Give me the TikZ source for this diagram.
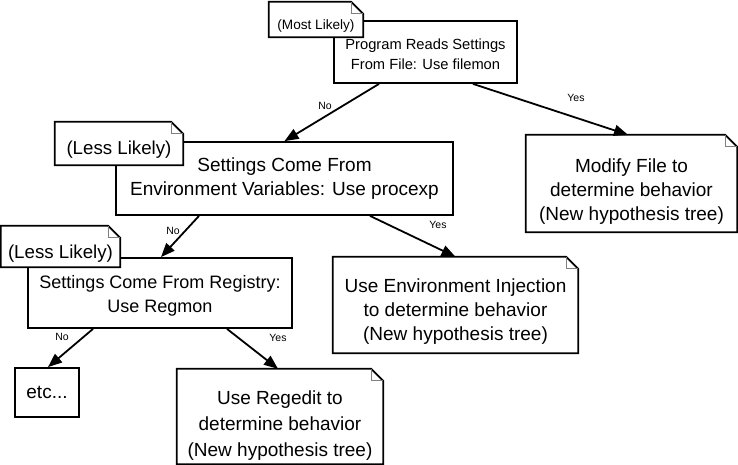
\documentclass[tikz,border=0pt]{standalone}
\usepackage{fontspec}
\setmainfont{Liberation Sans}
\usetikzlibrary{arrows.meta}

% note outline with folded corner
\newcommand{\dogear}[1]{%
  \draw[line width=1.8pt] (#1.north west) -- ([xshift=-12pt]#1.north east) -- ([yshift=-12pt]#1.north east) -- (#1.south east) -- (#1.south west) -- cycle;
  \draw[gray, line width=1.2pt] ([xshift=-12pt]#1.north east) |- ([yshift=-12pt]#1.north east);
}
% taller first line, pushes the text down
\newcommand{\topstrut}[1]{\rule{0pt}{#1}}

\begin{document}
\begin{tikzpicture}[x=1pt,y=-1pt,
    box/.style={draw, line width=1.8pt, inner sep=0pt, align=center, fill=white},
    note/.style={fill=white, inner sep=0pt, align=center},
    big/.style={font=\fontsize{19}{24}\selectfont},
    lbl/.style={font=\fontsize{10.5}{12}\selectfont, inner sep=0pt},
    arr/.style={line width=1.8pt, -{Triangle[length=14pt,width=11pt]}}]
  \useasboundingbox (0,0) rectangle (738,465);

  % questions
  \node[box, minimum width=183pt, minimum height=62pt, font=\fontsize{14.7}{20}\selectfont] (file) at (425.5,52) {\topstrut{15pt}Program Reads Settings\\From File: Use filemon};
  \node[box, big, minimum width=337pt, minimum height=73pt] (env) at (284.5,178.5) {Settings Come From\\Environment Variables: Use procexp};
  \node[box, minimum width=264pt, minimum height=70pt, font=\fontsize{18}{24}\selectfont] (reg) at (160,293) {\topstrut{19pt}Settings Come From Registry:\\Use Regmon};
  \node[box, big, minimum width=64pt, minimum height=49pt] (etc) at (47,392.5) {etc...};

  % likelihood notes
  \node[note, minimum width=94pt, minimum height=35pt, font=\fontsize{13.6}{16}\selectfont] (most) at (316,19.5) {\topstrut{22pt}(Most Likely)};
  \dogear{most}
  \node[note, minimum width=128pt, minimum height=43pt, font=\fontsize{18.7}{22}\selectfont] (less1) at (119,143.5) {\topstrut{25.6pt}(Less Likely)};
  \dogear{less1}
  \node[note, minimum width=119pt, minimum height=41pt, font=\fontsize{18.7}{22}\selectfont] (less2) at (60.5,246.5) {\topstrut{27pt}(Less Likely)};
  \dogear{less2}

  % outcomes
  \node[note, big, minimum width=211pt, minimum height=97pt] (modify) at (631.5,183.5) {\topstrut{29pt}Modify File to\\determine behavior\\(New hypothesis tree)};
  \dogear{modify}
  \node[note, big, minimum width=245pt, minimum height=96pt] (inject) at (455.5,305) {\topstrut{26pt}Use Environment Injection\\to determine behavior\\(New hypothesis tree)};
  \dogear{inject}
  \node[note, minimum width=206pt, minimum height=95pt, font=\fontsize{19}{26}\selectfont] (regedit) at (280,416.5) {\topstrut{32pt}Use Regedit to\\determine behavior\\(New hypothesis tree)};
  \dogear{regedit}

  % branches
  \draw[arr] ([xshift=-46.5pt]file.south) -- (env.north);
  \draw[arr] ([xshift=47.5pt]file.south) -- ([xshift=-3.5pt]modify.north);
  \draw[arr] ([xshift=-85.5pt]env.south) -- ([xshift=1pt]reg.north);
  \draw[arr] ([xshift=85.5pt]env.south) -- (inject.north);
  \draw[arr] ([xshift=-67pt]reg.south) -- ([xshift=1pt]etc.north);
  \draw[arr] ([xshift=67pt]reg.south) -- ([xshift=-2pt]regedit.north);

  \node[lbl] (no1) at (325,106) {No};
  \node[lbl] (yes1) at (576,98) {Yes};
  \node[lbl] (no2) at (173,231) {No};
  \node[lbl] (yes2) at (438,225) {Yes};
  \node[lbl] (no3) at (62,337) {No};
  \node[lbl] (yes3) at (278,338) {Yes};
\end{tikzpicture}
\end{document}
